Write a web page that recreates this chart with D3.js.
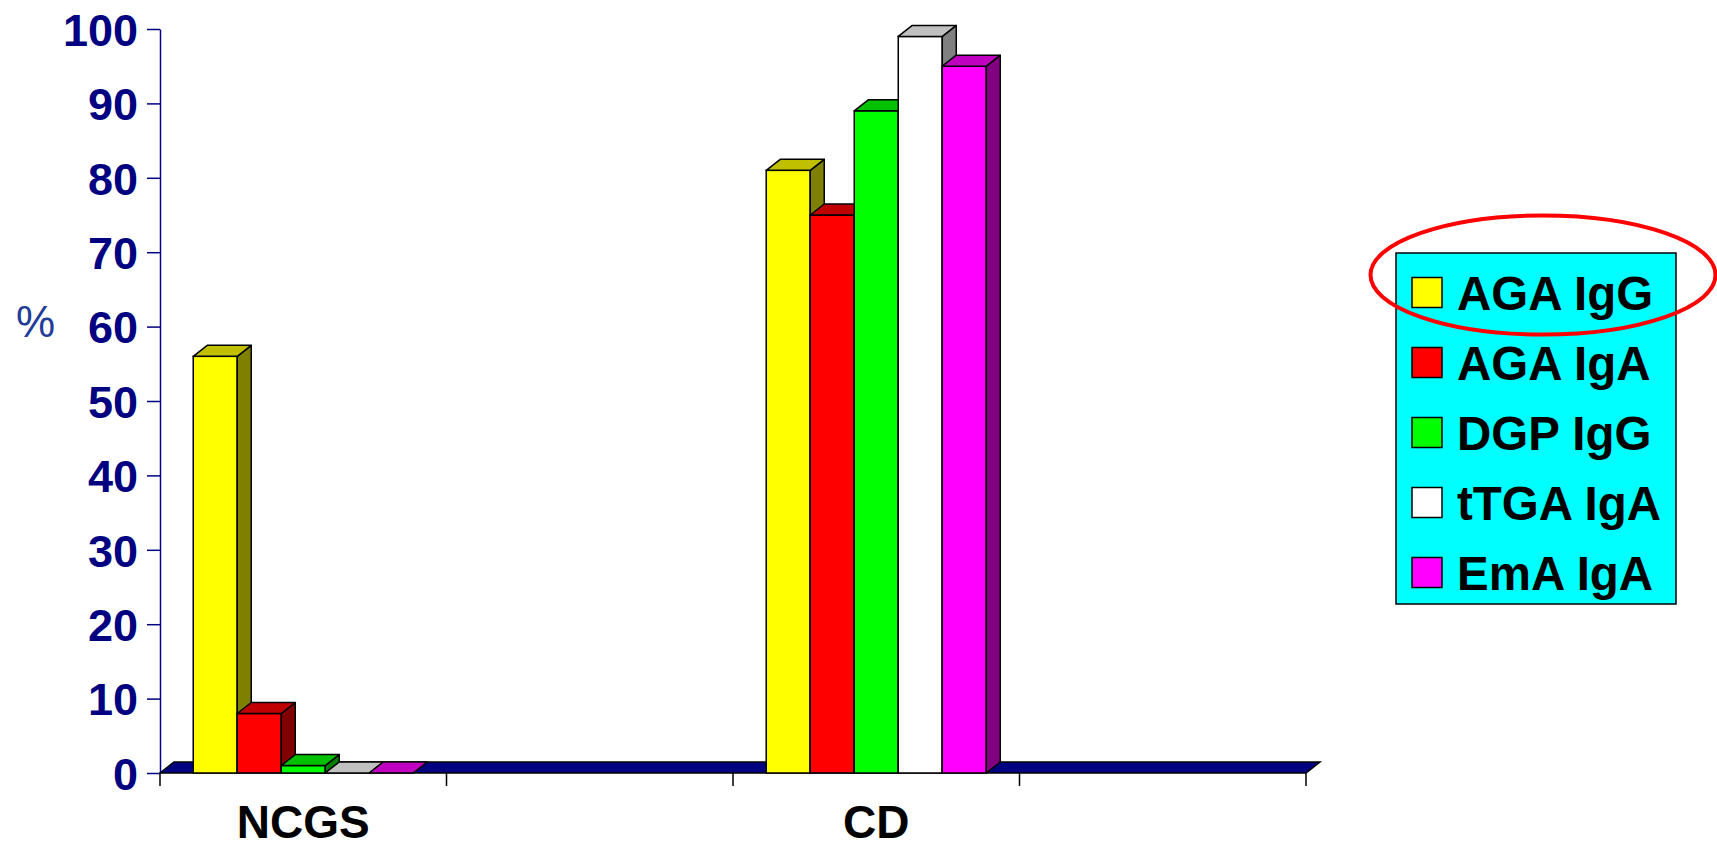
<!DOCTYPE html>
<html>
<head>
<meta charset="utf-8">
<script src="https://cdn.jsdelivr.net/npm/d3@7"></script>
<style>
  html, body { margin: 0; padding: 0; background: #ffffff; }
  svg { display: block; }
</style>
</head>
<body>
<svg id="chart" width="1717" height="848"></svg>
<script>
// ---- data ----
const axisSlots = ["NCGS", "", "CD", ""];
const seriesNames = ["AGA IgG", "AGA IgA", "DGP IgG", "tTGA IgA", "EmA IgA"];
const ncgsValues = [56, 8, 1, 0, 0];
const cdValues = [81, 75, 89, 99, 95];
const yTicks = [0, 10, 20, 30, 40, 50, 60, 70, 80, 90, 100];
const yLabel = "%";

// ---- styles ----
const frontColors = ["#FFFF00", "#FF0000", "#00FF00", "#FFFFFF", "#FF00FF"];
const topColors   = ["#C0C000", "#C00000", "#00C000", "#C0C0C0", "#C000C0"];
const sideColors  = ["#808000", "#800000", "#008000", "#808080", "#800080"];
const navy = "#000080";
const depthX = 14, depthY = -11;

const svg = d3.select("#chart");
const slotIds = axisSlots.map((d, i) => i);
const valuesBySlot = { 0: ncgsValues, 2: cdValues };

const x0 = d3.scaleBand().domain(slotIds).range([160, 1306]).paddingInner(0).paddingOuter(0);
const x1 = d3.scaleBand().domain(seriesNames).range([0, x0.bandwidth()]).paddingInner(0).paddingOuter(0.755);
const y = d3.scaleLinear().domain([0, 100]).range([773, 29]);

// ---- floor ----
const fx0 = x0.range()[0], fx1 = x0.range()[1], fy = y(0);
svg.append("path")
  .attr("d", `M${fx0},${fy} L${fx1},${fy} L${fx1 + depthX},${fy + depthY} L${fx0 + depthX},${fy + depthY} Z`)
  .attr("fill", navy).attr("stroke", "#000").attr("stroke-width", 1.5).attr("stroke-linejoin", "miter");

// ---- bars ----
Object.keys(valuesBySlot).forEach(slot => {
  const vals = valuesBySlot[slot];
  vals.forEach((v, i) => {
    const name = seriesNames[i];
    const xl = x0(+slot) + x1(name);
    const w = x1.bandwidth();
    const yt = y(v), yb = y(0);
    const g = svg.append("g");
    if (yb - yt > 0.5) {
      g.append("rect").attr("x", xl).attr("y", yt).attr("width", w).attr("height", yb - yt)
        .attr("fill", frontColors[i]).attr("stroke", "#000").attr("stroke-width", 1.5);
      g.append("path")
        .attr("d", `M${xl + w},${yb} L${xl + w + depthX},${yb + depthY} L${xl + w + depthX},${yt + depthY} L${xl + w},${yt} Z`)
        .attr("fill", sideColors[i]).attr("stroke", "#000").attr("stroke-width", 1.5).attr("stroke-linejoin", "round");
    }
    g.append("path")
      .attr("d", `M${xl},${yt} L${xl + w},${yt} L${xl + w + depthX},${yt + depthY} L${xl + depthX},${yt + depthY} Z`)
      .attr("fill", topColors[i]).attr("stroke", "#000").attr("stroke-width", 1.5).attr("stroke-linejoin", "round");
  });
});

// ---- y axis ----
const yAxis = d3.axisLeft(y).tickValues(yTicks).tickSize(13).tickSizeOuter(0).tickPadding(9);
const yg = svg.append("g").attr("transform", `translate(160,0)`).call(yAxis);
yg.select(".domain").attr("stroke", navy).attr("stroke-width", 1.5);
yg.selectAll(".tick line").attr("stroke", navy).attr("stroke-width", 1.5);
yg.selectAll(".tick text")
  .attr("fill", navy)
  .attr("font-family", "'Liberation Sans', Arial, sans-serif")
  .attr("font-weight", "bold")
  .attr("font-size", 45)
  .attr("dy", "0.36em");

// ---- x axis ticks at band boundaries ----
const boundaries = slotIds.map(d => x0(d)).concat([x0.range()[1]]);
svg.append("g").selectAll("line").data(boundaries).join("line")
  .attr("x1", d => d).attr("x2", d => d)
  .attr("y1", fy).attr("y2", fy + 13)
  .attr("stroke", "#000").attr("stroke-width", 1.5);

svg.append("g").selectAll("text").data(slotIds.filter(d => axisSlots[d] !== "")).join("text")
  .attr("x", d => x0(d) + x0.bandwidth() / 2)
  .attr("y", 838)
  .attr("text-anchor", "middle")
  .attr("font-family", "'Liberation Sans', Arial, sans-serif")
  .attr("font-weight", "bold")
  .attr("font-size", 46)
  .attr("fill", "#000")
  .text(d => axisSlots[d]);

// ---- y label ----
svg.append("text")
  .attr("x", 16).attr("y", 337)
  .attr("font-family", "'Liberation Sans', Arial, sans-serif")
  .attr("font-size", 44)
  .attr("fill", "#1F3D99")
  .text(yLabel);

// ---- legend ----
const legend = svg.append("g");
legend.append("rect").attr("x", 1396).attr("y", 253).attr("width", 280).attr("height", 351)
  .attr("fill", "#00FFFF").attr("stroke", "#000").attr("stroke-width", 1.5);
const rows = legend.selectAll("g.row").data(seriesNames).join("g").attr("class", "row")
  .attr("transform", (d, i) => `translate(0,${i * 70})`);
rows.append("rect").attr("x", 1412).attr("y", 277.5).attr("width", 30).attr("height", 30)
  .attr("fill", (d, i) => frontColors[i]).attr("stroke", "#000").attr("stroke-width", 1.5);
rows.append("text").attr("x", 1457).attr("y", 310)
  .attr("font-family", "'Liberation Sans', Arial, sans-serif")
  .attr("font-weight", "bold")
  .attr("font-size", 47.5)
  .attr("fill", "#000")
  .text(d => d);

// ---- highlight ellipse ----
svg.append("ellipse").attr("cx", 1543).attr("cy", 275).attr("rx", 172.5).attr("ry", 59.5)
  .attr("fill", "none").attr("stroke", "#FF0000").attr("stroke-width", 4);
</script>
</body>
</html>
